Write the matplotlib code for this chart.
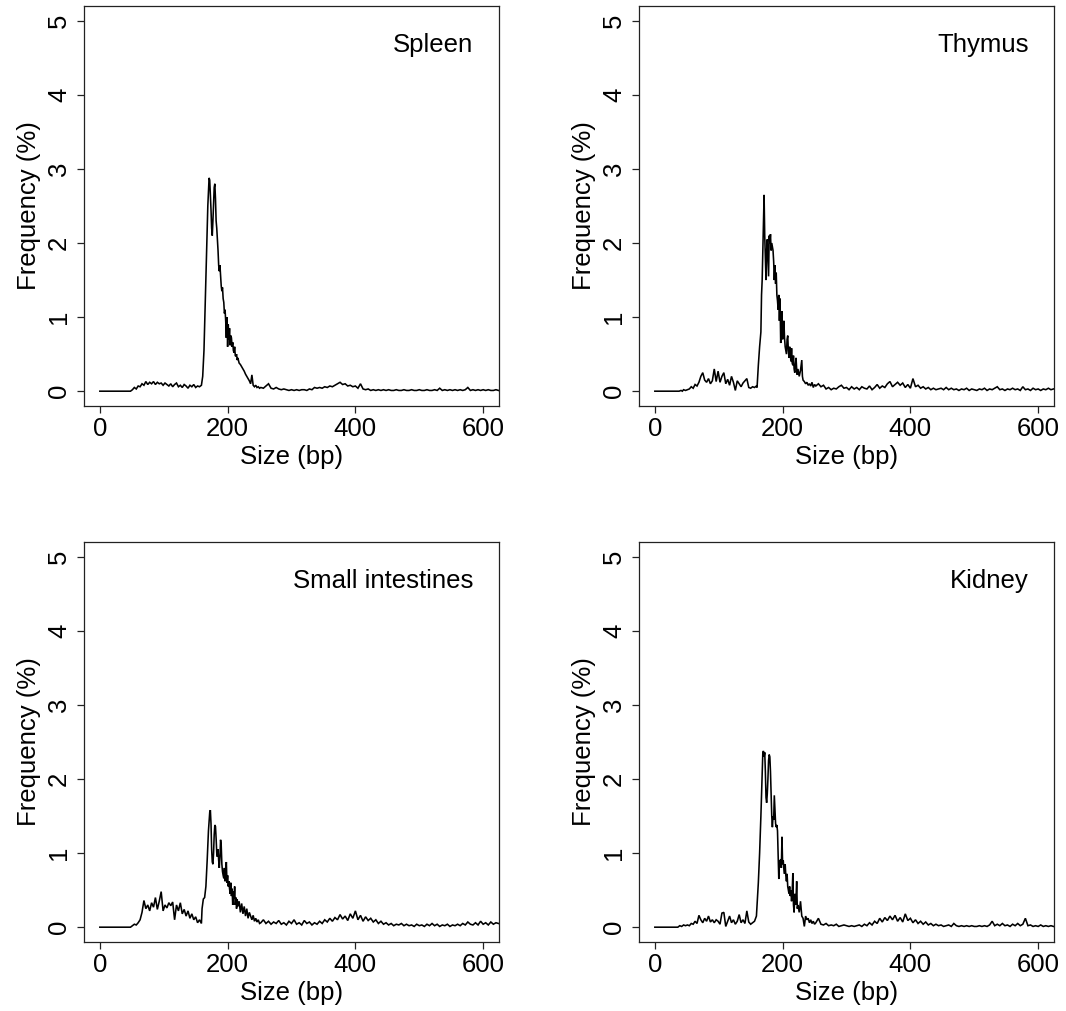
import numpy as np
import matplotlib
matplotlib.use("Agg")
import matplotlib.pyplot as plt

plt.rcParams['font.family'] = ['Liberation Sans', 'DejaVu Sans']

# ---------------- data (fragment size in bp vs frequency in %) ----------------
tissues = ["Spleen", "Thymus", "Small intestines", "Kidney"]
x_ticks = [0, 200, 400, 600]
y_ticks = [0, 1, 2, 3, 4, 5]

# start segment (explicit sizes)
spleen_start_x = [0, 46]
spleen_start = [0.0, 0.0]
thymus_start_x = [0, 38, 41, 43, 45]
thymus_start = [0.0, 0.0, 0.01, 0.0, 0.02]
small_start_x = [0, 46]
small_start = [0.0, 0.0]
kidney_start_x = [0, 36, 39, 42, 45]
kidney_start = [0.0, 0.0, 0.02, 0.01, 0.03]

# low (sub-nucleosomal) region: sizes 48, 51, 54, ... (every 3 bp)
low_start, low_step = 48, 3
spleen_low = [0.00, 0.02, 0.05, 0.03, 0.07, 0.06, 0.10, 0.08, 0.13, 0.09, 0.12, 0.10, 0.13,
              0.09, 0.12, 0.10, 0.11, 0.08, 0.11, 0.09, 0.07, 0.10, 0.06, 0.09, 0.11, 0.06,
              0.08, 0.05, 0.09, 0.07, 0.04, 0.08, 0.06, 0.09, 0.05, 0.07, 0.06, 0.08]
thymus_low = [0.01, 0.02, 0.03, 0.06, 0.04, 0.09, 0.07, 0.12, 0.20, 0.25, 0.15, 0.12, 0.17,
              0.10, 0.14, 0.30, 0.13, 0.27, 0.12, 0.20, 0.25, 0.10, 0.16, 0.08, 0.20, 0.12,
              0.01, 0.14, 0.10, 0.06, 0.11, 0.14, 0.17, 0.05, 0.04, 0.06, 0.05, 0.07]
small_low = [0.00, 0.02, 0.04, 0.03, 0.06, 0.10, 0.20, 0.36, 0.25, 0.30, 0.22, 0.33, 0.27,
             0.40, 0.24, 0.35, 0.48, 0.22, 0.30, 0.26, 0.33, 0.29, 0.34, 0.10, 0.30, 0.22,
             0.33, 0.18, 0.24, 0.15, 0.22, 0.12, 0.18, 0.10, 0.14, 0.06, 0.10, 0.05]
kidney_low = [0.02, 0.03, 0.02, 0.05, 0.04, 0.08, 0.05, 0.16, 0.10, 0.06, 0.12, 0.08, 0.15,
              0.07, 0.10, 0.06, 0.10, 0.08, 0.04, 0.19, 0.20, 0.01, 0.08, 0.15, 0.06, 0.10,
              0.04, 0.08, 0.17, 0.06, 0.10, 0.05, 0.22, 0.07, 0.04, 0.06, 0.08, 0.15]

# mono-nucleosomal peak region (explicit sizes)
spleen_peak_x = [161, 163, 165, 167, 169, 171, 172, 174, 175, 176, 177, 179, 180, 181, 182, 183,
                 185, 186, 187, 188, 189, 190, 191, 192, 193, 194, 195, 196, 197, 198, 199, 200,
                 201, 202, 203, 204, 205, 206, 207, 208, 209, 210, 211, 212, 213, 214, 215, 216,
                 218, 220, 222, 224, 226, 228, 230, 232, 234, 236, 238, 240, 242, 244, 246, 248, 250]
spleen_peak = [0.20, 0.55, 1.20, 1.90, 2.50, 2.88, 2.85, 2.45, 2.20, 2.10, 2.30, 2.75, 2.80, 2.60,
               2.30, 2.20, 1.90, 1.70, 1.62, 1.70, 1.55, 1.42, 1.35, 1.40, 1.25, 1.20, 1.05, 1.10,
               0.95, 0.72, 1.00, 0.60, 0.90, 0.70, 0.85, 0.62, 0.75, 0.72, 0.60, 0.66, 0.55, 0.52,
               0.60, 0.48, 0.47, 0.50, 0.42, 0.45, 0.38, 0.36, 0.33, 0.30, 0.27, 0.23, 0.20, 0.17,
               0.14, 0.10, 0.22, 0.08, 0.06, 0.08, 0.05, 0.06, 0.04]

thymus_peak_x = [160, 162, 164, 166, 167, 168, 169, 170, 171, 172, 173, 174, 175, 176, 177, 178,
                 179, 180, 181, 182, 183, 184, 185, 186, 187, 188, 189, 190, 191, 192, 193, 194,
                 195, 196, 197, 198, 199, 200, 201, 202, 203, 204, 205, 206, 207, 208, 209, 210,
                 211, 212, 213, 214, 215, 216, 217, 218, 219, 220, 221, 222, 223, 224, 226, 228,
                 230, 231, 232, 234, 236, 238, 240, 242, 244, 246, 248, 250]
thymus_peak = [0.05, 0.35, 0.60, 0.80, 1.30, 1.50, 1.90, 2.30, 2.65, 2.10, 1.80, 1.50, 1.90, 2.05,
               1.80, 1.55, 2.10, 2.00, 2.12, 1.90, 2.00, 1.95, 1.90, 1.75, 1.50, 1.70, 1.45, 1.60,
               1.30, 1.22, 1.10, 1.30, 0.95, 1.25, 0.65, 0.90, 1.08, 0.70, 0.85, 0.95, 0.72, 0.60,
               0.55, 0.50, 0.70, 0.75, 0.55, 0.45, 0.60, 0.50, 0.40, 0.58, 0.38, 0.35, 0.48, 0.30,
               0.25, 0.35, 0.45, 0.30, 0.22, 0.30, 0.20, 0.28, 0.42, 0.20, 0.15, 0.13, 0.10, 0.12,
               0.08, 0.10, 0.07, 0.12, 0.05, 0.09]

small_peak_x = [160, 162, 164, 166, 168, 170, 172, 173, 174, 175, 176, 177, 178, 179, 180, 181,
                182, 183, 184, 185, 186, 187, 188, 189, 190, 191, 192, 193, 194, 195, 196, 197,
                198, 199, 200, 201, 202, 203, 204, 205, 206, 207, 208, 209, 210, 211, 212, 213,
                214, 215, 216, 218, 220, 222, 224, 226, 228, 230, 232, 234, 236, 238, 240, 242,
                244, 246, 248, 250]
small_peak = [0.25, 0.38, 0.40, 0.55, 0.90, 1.30, 1.55, 1.58, 1.40, 1.05, 0.88, 0.85, 1.00, 1.25,
              1.38, 1.36, 1.20, 1.00, 0.95, 1.05, 0.90, 0.80, 0.95, 1.18, 1.10, 0.85, 0.75, 0.70,
              0.66, 0.80, 0.62, 0.72, 0.88, 0.60, 0.70, 0.55, 0.62, 0.52, 0.45, 0.60, 0.42, 0.52,
              0.30, 0.48, 0.38, 0.55, 0.30, 0.40, 0.25, 0.38, 0.28, 0.35, 0.20, 0.32, 0.18, 0.28,
              0.15, 0.25, 0.12, 0.20, 0.15, 0.10, 0.16, 0.08, 0.12, 0.07, 0.10, 0.05]

kidney_peak_x = [160, 162, 164, 166, 168, 169, 170, 171, 172, 173, 174, 175, 176, 177, 178, 179,
                 180, 181, 182, 183, 184, 185, 186, 187, 188, 189, 190, 191, 192, 193, 194, 195,
                 196, 197, 198, 199, 200, 201, 202, 203, 204, 205, 206, 207, 208, 209, 210, 211,
                 212, 213, 214, 215, 216, 217, 218, 219, 220, 221, 222, 223, 224, 226, 228, 230,
                 232, 234, 236, 238, 240, 242, 244, 246, 248, 250]
kidney_peak = [0.30, 0.60, 1.00, 1.50, 2.10, 2.35, 2.38, 2.30, 2.36, 2.10, 1.75, 1.68, 1.80, 2.00,
               2.25, 2.33, 2.30, 2.10, 1.80, 1.50, 1.35, 1.50, 1.45, 1.78, 1.60, 1.40, 1.35, 1.38,
               1.30, 0.95, 0.65, 0.90, 0.85, 0.92, 0.80, 1.22, 0.85, 0.90, 0.78, 0.72, 0.85, 0.70,
               0.62, 0.72, 0.55, 0.50, 0.45, 0.55, 0.42, 0.50, 0.35, 0.48, 0.73, 0.30, 0.20, 0.45,
               0.30, 0.38, 0.62, 0.25, 0.30, 0.20, 0.35, 0.15, 0.12, 0.01, 0.15, 0.10, 0.12, 0.06,
               0.10, 0.05, 0.08, 0.04]

# tail region: sizes 252, 256, ... (every 4 bp)
tail_start, tail_step = 252, 4
spleen_tail = [0.05, 0.04, 0.07, 0.10, 0.04, 0.03, 0.05, 0.03, 0.02, 0.03, 0.02, 0.01, 0.02, 0.01,
               0.02, 0.01, 0.02, 0.02, 0.01, 0.03, 0.02, 0.05, 0.04, 0.05, 0.04, 0.06, 0.05, 0.07,
               0.06, 0.08, 0.10, 0.12, 0.09, 0.10, 0.07, 0.08, 0.06, 0.07, 0.04, 0.10, 0.03, 0.02,
               0.03, 0.01, 0.02, 0.01, 0.02, 0.01, 0.02, 0.01, 0.02, 0.01, 0.01, 0.02, 0.01, 0.01,
               0.02, 0.01, 0.01, 0.02, 0.01, 0.01, 0.02, 0.01, 0.01, 0.02, 0.01, 0.01, 0.02, 0.01,
               0.04, 0.01, 0.02, 0.01, 0.02, 0.01, 0.02, 0.01, 0.02, 0.01, 0.02, 0.05, 0.01, 0.02,
               0.01, 0.02, 0.01, 0.02, 0.01, 0.02, 0.01, 0.01, 0.02, 0.01]
thymus_tail = [0.07, 0.10, 0.06, 0.08, 0.03, 0.05, 0.02, 0.04, 0.03, 0.06, 0.08, 0.04, 0.05, 0.02,
               0.06, 0.03, 0.05, 0.02, 0.06, 0.04, 0.03, 0.07, 0.02, 0.05, 0.09, 0.04, 0.07, 0.05,
               0.10, 0.13, 0.06, 0.09, 0.12, 0.08, 0.11, 0.05, 0.09, 0.04, 0.17, 0.06, 0.08, 0.04,
               0.06, 0.03, 0.05, 0.02, 0.04, 0.02, 0.03, 0.04, 0.02, 0.05, 0.02, 0.04, 0.02, 0.03,
               0.01, 0.03, 0.02, 0.04, 0.01, 0.03, 0.02, 0.01, 0.03, 0.02, 0.04, 0.01, 0.03, 0.02,
               0.04, 0.06, 0.02, 0.03, 0.01, 0.03, 0.02, 0.04, 0.02, 0.03, 0.01, 0.06, 0.02, 0.03,
               0.01, 0.04, 0.02, 0.03, 0.01, 0.03, 0.02, 0.04, 0.02, 0.03]
small_tail = [0.06, 0.10, 0.05, 0.08, 0.04, 0.07, 0.05, 0.09, 0.04, 0.06, 0.03, 0.08, 0.05, 0.10,
              0.04, 0.06, 0.03, 0.09, 0.05, 0.07, 0.03, 0.06, 0.04, 0.08, 0.05, 0.10, 0.07, 0.12,
              0.08, 0.13, 0.10, 0.17, 0.11, 0.15, 0.09, 0.18, 0.12, 0.22, 0.10, 0.16, 0.08, 0.14,
              0.09, 0.12, 0.07, 0.10, 0.05, 0.08, 0.04, 0.06, 0.03, 0.05, 0.02, 0.04, 0.03, 0.05,
              0.02, 0.04, 0.02, 0.03, 0.01, 0.04, 0.02, 0.03, 0.01, 0.04, 0.02, 0.05, 0.02, 0.04,
              0.01, 0.03, 0.02, 0.04, 0.01, 0.03, 0.02, 0.04, 0.02, 0.05, 0.03, 0.07, 0.04, 0.03,
              0.06, 0.03, 0.08, 0.04, 0.06, 0.03, 0.07, 0.04, 0.06, 0.05]
kidney_tail = [0.06, 0.12, 0.04, 0.03, 0.05, 0.02, 0.03, 0.02, 0.04, 0.01, 0.02, 0.03, 0.02, 0.01,
               0.02, 0.01, 0.02, 0.03, 0.01, 0.04, 0.02, 0.06, 0.03, 0.08, 0.05, 0.12, 0.07, 0.13,
               0.09, 0.15, 0.10, 0.16, 0.08, 0.13, 0.07, 0.18, 0.09, 0.12, 0.06, 0.10, 0.05, 0.08,
               0.04, 0.07, 0.03, 0.05, 0.02, 0.04, 0.02, 0.03, 0.01, 0.02, 0.03, 0.01, 0.05, 0.02,
               0.01, 0.02, 0.01, 0.02, 0.01, 0.02, 0.01, 0.01, 0.02, 0.01, 0.02, 0.01, 0.03, 0.08,
               0.02, 0.04, 0.02, 0.05, 0.02, 0.03, 0.01, 0.04, 0.02, 0.05, 0.02, 0.04, 0.12, 0.02,
               0.03, 0.01, 0.02, 0.01, 0.03, 0.01, 0.02, 0.01, 0.02, 0.01]


def assemble(start_x, start, low, peak_x, peak, tail):
    lx = [low_start + low_step * i for i in range(len(low))]
    tx = [tail_start + tail_step * i for i in range(len(tail))]
    x = list(start_x) + lx + list(peak_x) + tx
    y = list(start) + list(low) + list(peak) + list(tail)
    return np.array(x, float), np.array(y, float)


series = [
    assemble(spleen_start_x, spleen_start, spleen_low, spleen_peak_x, spleen_peak, spleen_tail),
    assemble(thymus_start_x, thymus_start, thymus_low, thymus_peak_x, thymus_peak, thymus_tail),
    assemble(small_start_x, small_start, small_low, small_peak_x, small_peak, small_tail),
    assemble(kidney_start_x, kidney_start, kidney_low, kidney_peak_x, kidney_peak, kidney_tail),
]

# ---------------- figure ----------------
W, H = 1066, 1011
fig = plt.figure(figsize=(W / 100, H / 100), dpi=100)
FS = 18.5
box_w, box_h = 415, 400
lefts = [84, 639]
bottoms_px = [406, 942]  # pixel y of axes bottom (from top)

for idx, (name, (x, y)) in enumerate(zip(tissues, series)):
    r, c = divmod(idx, 2)
    l = lefts[c] / W
    b = (H - bottoms_px[r]) / H
    ax = fig.add_axes([l, b, box_w / W, box_h / H])
    ax.plot(x, y, color='black', lw=1.15, solid_joinstyle='miter')
    ax.set_xlim(-24.8, 624.8)
    ax.set_ylim(-0.2, 5.2)
    ax.set_xticks(x_ticks)
    ax.set_yticks(y_ticks)
    ax.set_xticklabels([str(v) for v in x_ticks])
    ax.set_yticklabels([str(v) for v in y_ticks], rotation=90, va='center')
    for s in ax.spines.values():
        s.set_linewidth(0.9)
        s.set_color('#222222')
    ax.tick_params(axis='both', length=5.2, width=0.9, color='#222222',
                   labelsize=FS, labelcolor='black')
    ax.tick_params(axis='x', pad=2.6)
    ax.tick_params(axis='y', pad=4.0)
    ax.set_xlabel("Size (bp)", fontsize=FS)
    ax.set_ylabel("Frequency (%)", fontsize=FS)
    ax.xaxis.set_label_coords(0.5, -0.097)
    ax.yaxis.set_label_coords(-0.104, 0.5)
    ax.text(0.9386, 0.886, name, transform=ax.transAxes, ha='right', va='baseline',
            fontsize=FS)

fig.savefig("out.png", dpi=100)
